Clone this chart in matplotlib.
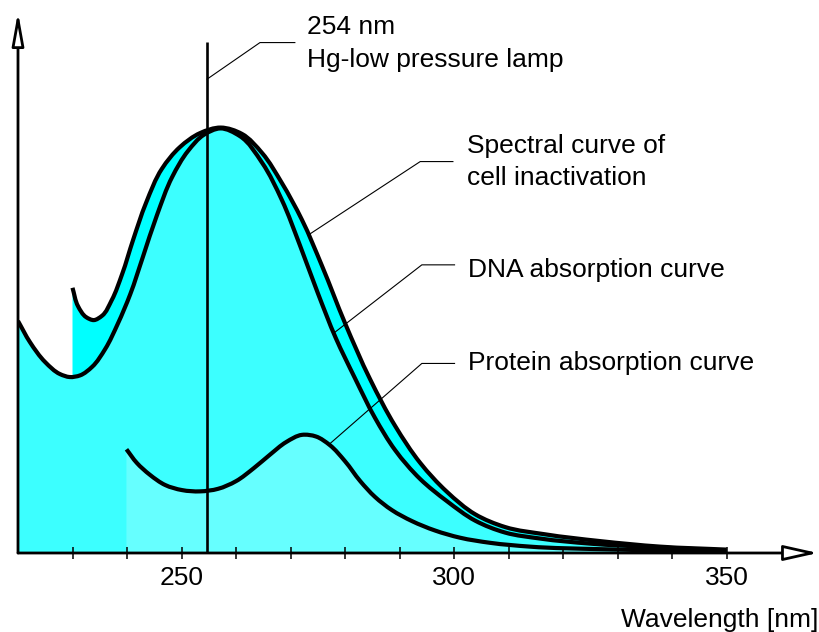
############################################### Import modules #########################################################

import matplotlib
matplotlib.use('Agg')
import matplotlib.pyplot as plt
import numpy as np
from matplotlib.path import Path
from matplotlib.patches import PathPatch

plt.rcParams['font.family'] = ['Liberation Sans', 'DejaVu Sans']

################################################# Data #############################################
# Wavelength in nm, relative absorption / sensitivity (peak ~ 100).

cell_wl = [230.0, 231.0, 232.5, 233.9, 235.4, 237.2, 239.1, 241.1, 243.5, 246.4, 249.7, 253.4, 257.2, 261.1,
           264.8, 268.4, 272.1, 275.8, 280.0, 284.6, 289.2, 293.8, 298.7, 303.9, 309.4, 316.7, 326.8, 337.8,
           350.0]
cell_h = [62.4, 58.1, 55.5, 54.8, 55.8, 59.5, 65.6, 73.6, 82.4, 90.4, 95.5, 98.8, 100.1, 98.6,
          94.1, 87.1, 78.4, 67.5, 54.1, 40.9, 29.9, 21.2, 14.4, 9.1, 6.1, 4.4, 2.8, 1.5,
          0.8]

dna_wl = [220.0, 222.2, 225.0, 227.7, 229.5, 231.4, 233.6, 236.0, 238.3, 240.6, 242.9, 245.5, 248.3, 251.2,
          254.1, 257.1, 260.7, 264.8, 268.4, 271.7, 275.0, 278.3, 281.8, 285.5, 289.2, 293.8, 298.7, 303.9,
          309.4, 315.8, 325.0, 336.0, 350.0]
dna_h = [54.6, 49.6, 44.9, 42.1, 41.4, 41.8, 43.8, 48.0, 53.9, 60.9, 69.6, 79.5, 88.5, 94.6,
         98.4, 99.9, 98.1, 91.8, 83.1, 72.5, 61.2, 50.6, 41.2, 31.8, 24.2, 17.4, 12.2, 7.6,
         4.8, 3.4, 2.2, 1.4, 0.6]

prot_wl = [239.9, 241.8, 244.2, 247.0, 250.1, 253.4, 256.7, 260.0, 263.3, 266.2, 269.2, 272.1, 274.7, 277.2,
           280.0, 282.8, 285.5, 288.6, 292.3, 296.5, 301.1, 306.6, 313.9, 326.8, 350.0]
prot_h = [24.4, 21.2, 18.4, 16.0, 14.8, 14.5, 15.1, 16.9, 20.0, 23.1, 26.1, 27.8, 27.4, 25.4,
          21.6, 16.9, 13.2, 10.1, 7.5, 5.3, 3.6, 2.4, 1.5, 0.9, 0.5]

lamp_wl = 254.6
lamp_top = 120.2

major_ticks = [250, 300, 350]
minor_ticks = [230, 240, 260, 270, 280, 290, 310, 320, 330, 340]

############################################### Layout / style #########################################################

px_x = 5.45   # pixels per nm
px_y = 4.25   # pixels per unit of height
fs = 19

c_band = '#00FFFF'
c_main = '#3CFFFF'
c_prot = '#66FFFF'


def smooth_path(xs, ys, closed=False):
    """Cubic Bezier path through the points (chord-length Catmull-Rom tangents)."""
    x = np.asarray(xs, dtype=float)
    y = np.asarray(ys, dtype=float)
    d = np.hypot(np.diff(x) * px_x, np.diff(y) * px_y)
    t = np.concatenate([[0.0], np.cumsum(d)])
    mx = np.gradient(x, t)
    my = np.gradient(y, t)
    verts = [(x[0], y[0])]
    codes = [Path.MOVETO]
    for i in range(len(x) - 1):
        verts += [(x[i] + mx[i] * d[i] / 3, y[i] + my[i] * d[i] / 3),
                  (x[i + 1] - mx[i + 1] * d[i] / 3, y[i + 1] - my[i + 1] * d[i] / 3),
                  (x[i + 1], y[i + 1])]
        codes += [Path.CURVE4] * 3
    if closed:
        verts += [(x[-1], 0), (x[0], 0), (x[0], y[0])]
        codes += [Path.LINETO, Path.LINETO, Path.CLOSEPOLY]
    return Path(verts, codes)

##################################################### Figure ###########################################################

fig = plt.figure(figsize=(8.2, 6.32), dpi=100)
ax = fig.add_axes([18 / 820, 79 / 632, 800 / 820, 541 / 632])
ax.set_xlim(220, 220 + 800 / px_x)
ax.set_ylim(0, 541 / px_y)
for sp in ax.spines.values():
    sp.set_visible(False)
ax.set_yticks([])
ax.set_xticks(major_ticks)
ax.set_xticks(minor_ticks, minor=True)
ax.tick_params(axis='x', which='both', direction='inout', length=8.6, width=1.1, color='black',
               labelsize=fs, pad=5)

# fills: band between cell and DNA curve, area under DNA, area under protein
ax.add_patch(PathPatch(smooth_path(cell_wl, cell_h, closed=True), fc=c_band, ec='none', zorder=1))
ax.add_patch(PathPatch(smooth_path(dna_wl, dna_h, closed=True), fc=c_main, ec='none', zorder=1.1))
ax.add_patch(PathPatch(smooth_path(prot_wl, prot_h, closed=True), fc=c_prot, ec='none', zorder=1.2))

for wl, h in [(cell_wl, cell_h), (dna_wl, dna_h), (prot_wl, prot_h)]:
    ax.add_patch(PathPatch(smooth_path(wl, h), fill=False, ec='black', lw=3.0, zorder=4,
                           capstyle='butt', joinstyle='round'))

# lamp line
ax.plot([lamp_wl, lamp_wl], [0, lamp_top], color='black', lw=1.9, zorder=5, solid_capstyle='butt')

# axes with open arrow heads
ax.annotate('', xy=(220 + 800 / px_x, 0), xytext=(220, 0), annotation_clip=False, zorder=6,
            arrowprops=dict(arrowstyle='-|>,head_length=21,head_width=4.7', mutation_scale=1,
                            fc='white', ec='black', lw=2, shrinkA=0, shrinkB=0))
ax.annotate('', xy=(220, 541 / px_y), xytext=(220, 0), annotation_clip=False, zorder=6,
            arrowprops=dict(arrowstyle='-|>,head_length=20,head_width=3.6', mutation_scale=1,
                            fc='white', ec='black', lw=2, shrinkA=0, shrinkB=0))

################################################### Labels #############################################################

leaders = [([254.7, 264.4, 270.8], [111.5, 120.1, 120.1]),
           ([273.6, 293.8, 299.8], [75.1, 92.1, 92.1]),
           ([277.9, 294.1, 300.1], [51.7, 67.8, 67.8]),
           ([277.3, 294.1, 300.1], [25.8, 44.6, 44.6])]
for lx, ly in leaders:
    ax.plot(lx, ly, color='black', lw=0.8, zorder=5)

labels = [(273.0, 122.1, '254 nm'),
          (273.0, 114.4, 'Hg-low pressure lamp'),
          (302.3, 94.2, 'Spectral curve of'),
          (302.3, 86.6, 'cell inactivation'),
          (302.6, 65.0, 'DNA absorption curve'),
          (302.6, 43.1, 'Protein absorption curve')]
for tx, ty, s in labels:
    ax.text(tx, ty, s, fontsize=fs, ha='left', va='baseline')

ax.text(220 + 800 / px_x, -17.4, 'Wavelength [nm]', fontsize=fs, ha='right', va='baseline', clip_on=False)

fig.savefig('out.png', dpi=100)
